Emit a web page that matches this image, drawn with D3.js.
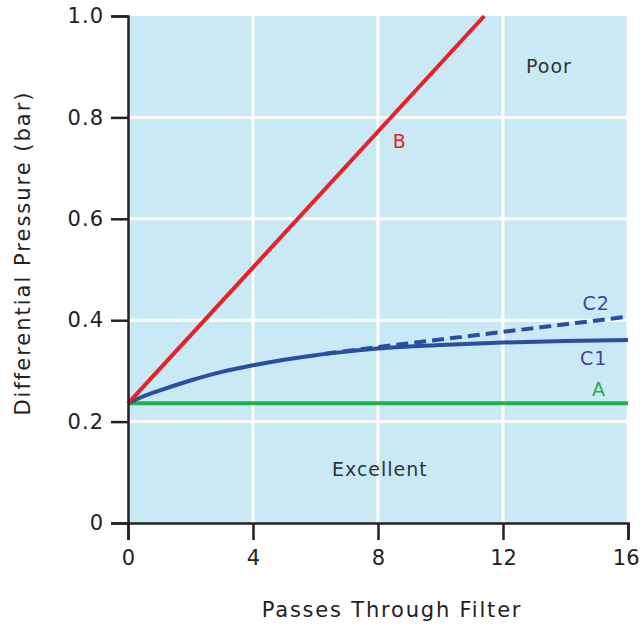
<!DOCTYPE html>
<html><head><meta charset="utf-8">
<script src="https://cdn.jsdelivr.net/npm/d3@7"></script>
<style>body{margin:0;background:#fff}svg{display:block}</style>
</head><body>
<svg id="c" width="640" height="628"></svg>
<script>
const xTicks = [0, 4, 8, 12, 16];
const yTicks = [0, 0.2, 0.4, 0.6, 0.8, 1.0];
const yTickLabels = ["0", "0.2", "0.4", "0.6", "0.8", "1.0"];
const seriesA = [[0, 0.236], [16, 0.236]];
const seriesB = [[0, 0.236], [11.4, 1.0]];
const seriesC1 = [[0, 0.236], [0.5, 0.25], [1, 0.261], [2, 0.281], [3, 0.298], [4, 0.311], [5, 0.322], [6, 0.331], [7, 0.338], [8, 0.344], [10, 0.351], [12, 0.356], [14, 0.359], [16, 0.361]];
const seriesC2 = [[6.3, 0.334], [8, 0.347], [10, 0.362], [12, 0.377], [14, 0.392], [16, 0.407]];
const labels = [
  {text: "Poor", x: 13.47, y: 0.9, color: "#333"},
  {text: "B", x: 8.7, y: 0.753, color: "#e8202a"},
  {text: "C2", x: 14.98, y: 0.434, color: "#4a3fa0"},
  {text: "C1", x: 14.9, y: 0.325, color: "#4a3fa0"},
  {text: "A", x: 15.07, y: 0.264, color: "#22b04b"},
  {text: "Excellent", x: 8.06, y: 0.105, color: "#333"}
];

const svg = d3.select("#c");
const font = "'DejaVu Sans', sans-serif";
const x = d3.scaleLinear().domain([0, 16]).range([128, 628]);
const y = d3.scaleLinear().domain([0, 1]).range([523, 16]);

svg.append("rect").attr("x", x(0)).attr("y", y(1)).attr("width", x(16) - x(0)).attr("height", y(0) - y(1)).attr("fill", "#c9e9f5");

const g = svg.append("g");
g.selectAll(".gx").data(xTicks.slice(1)).join("line")
  .attr("x1", d => x(d)).attr("x2", d => x(d)).attr("y1", y(1)).attr("y2", y(0))
  .attr("stroke", "#fff").attr("stroke-width", 3);
g.selectAll(".gy").data(yTicks.slice(1, -1)).join("line")
  .attr("x1", x(0)).attr("x2", x(16)).attr("y1", d => y(d)).attr("y2", d => y(d))
  .attr("stroke", "#fff").attr("stroke-width", 3);

const line = d3.line().x(d => x(d[0])).y(d => y(d[1]));
const curve = d3.line().x(d => x(d[0])).y(d => y(d[1])).curve(d3.curveMonotoneX);

svg.append("path").attr("d", line(seriesA)).attr("fill", "none").attr("stroke", "#22b04b").attr("stroke-width", 4);
svg.append("path").attr("d", curve(seriesC2)).attr("fill", "none").attr("stroke", "#2a4ea0").attr("stroke-width", 4).attr("stroke-dasharray", "12,6");
svg.append("path").attr("d", curve(seriesC1)).attr("fill", "none").attr("stroke", "#2a4ea0").attr("stroke-width", 4);
svg.append("path").attr("d", line(seriesB)).attr("fill", "none").attr("stroke", "#e8202a").attr("stroke-width", 4);

const yAxis = d3.axisLeft(y).tickValues(yTicks).tickFormat((d, i) => yTickLabels[i]).tickSize(17).tickPadding(7);
const xAxis = d3.axisBottom(x).tickValues(xTicks).tickFormat(d3.format("d")).tickSize(17).tickPadding(10);

const ya = svg.append("g").attr("transform", `translate(${x(0)},0)`).call(yAxis);
const xa = svg.append("g").attr("transform", `translate(0,${y(0)})`).call(xAxis);
[ya, xa].forEach(a => {
  a.selectAll("path.domain").attr("stroke", "#222").attr("stroke-width", 2.5);
  a.selectAll(".tick line").attr("stroke", "#222").attr("stroke-width", 2.5);
  a.selectAll("text").attr("font-family", font).attr("font-size", 21).attr("fill", "#222");
});
ya.selectAll("text").attr("letter-spacing", 1);
xa.selectAll(".tick").filter(d => d === 16).select("text").attr("text-anchor", "end").attr("x", 11);

svg.selectAll(".lbl").data(labels).join("text")
  .attr("x", d => x(d.x)).attr("y", d => y(d.y)).attr("dy", "0.35em")
  .attr("text-anchor", "middle").attr("font-family", font).attr("font-size", 19).attr("letter-spacing", 1)
  .attr("fill", d => d.color).text(d => d.text);

svg.append("text").attr("x", 392).attr("y", 617).attr("text-anchor", "middle")
  .attr("font-family", font).attr("font-size", 21).attr("letter-spacing", 1.8).attr("fill", "#222").text("Passes Through Filter");
svg.append("text").attr("transform", "translate(30,253) rotate(-90)").attr("text-anchor", "middle")
  .attr("font-family", font).attr("font-size", 21).attr("letter-spacing", 2).attr("fill", "#222").text("Differential Pressure (bar)");
</script>
</body></html>
